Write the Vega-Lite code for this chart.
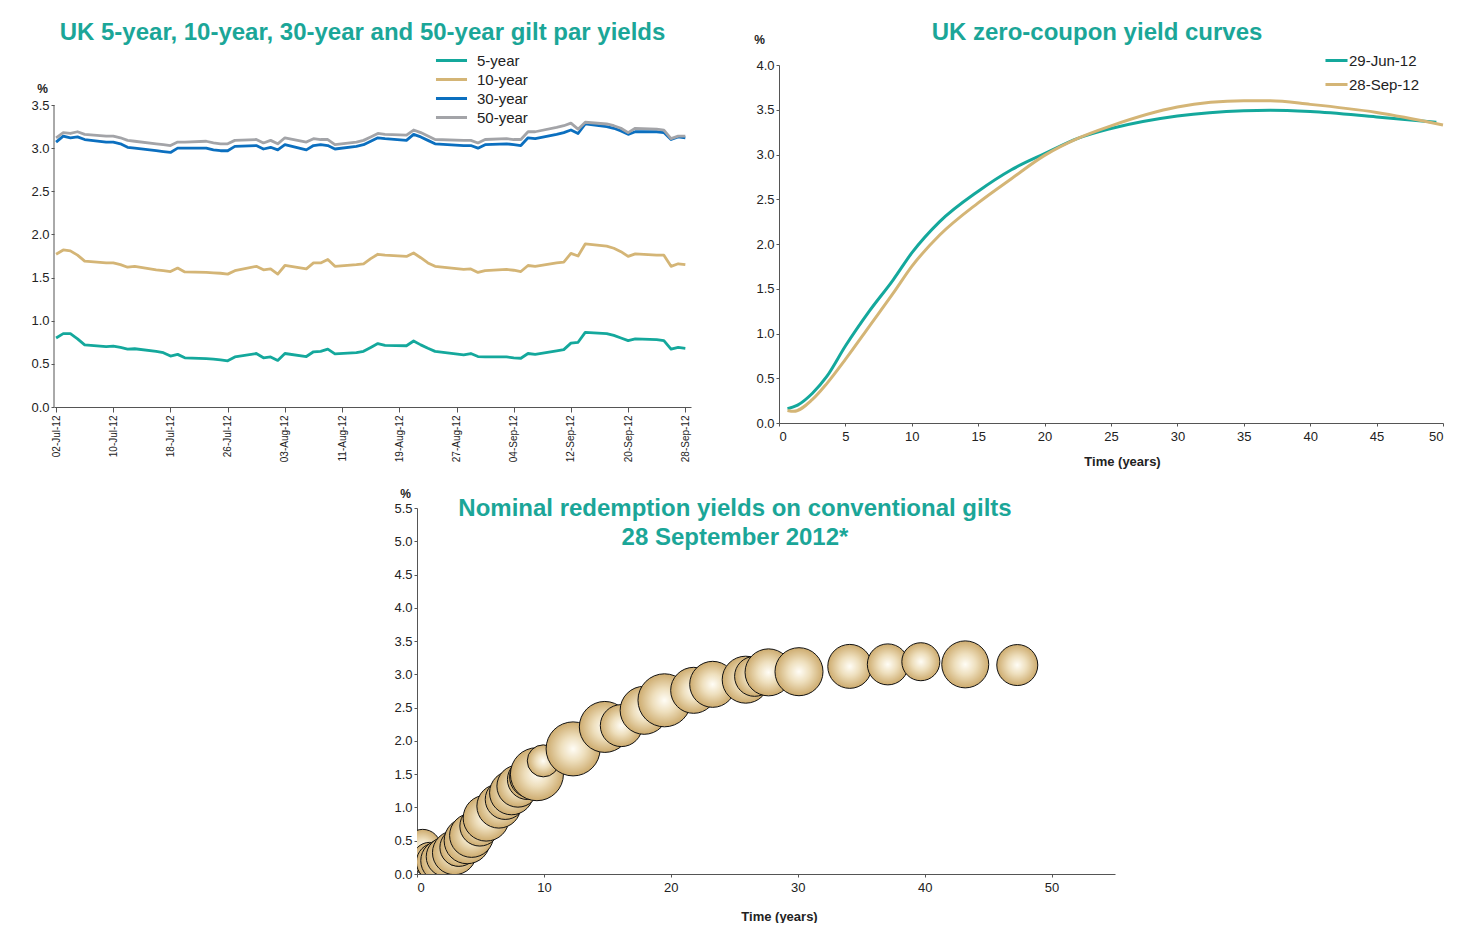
{
  "$schema": "https://vega.github.io/schema/vega-lite/v6.json",
  "background": "white",
  "padding": {"left": 30, "top": 21, "right": 0, "bottom": 0},
  "config": {
    "view": {"stroke": null},
    "font": "Liberation Sans, Arial, sans-serif",
    "title": {"font": "Liberation Sans, Arial, sans-serif", "fontSize": 24, "fontWeight": "bold", "color": "#1ba698", "anchor": "middle", "frame": "group"},
    "axis": {"grid": false, "domainColor": "#555555", "tickColor": "#555555", "tickSize": 3, "labelPadding": 2, "labelColor": "#222222", "labelFontSize": 13, "labelFont": "Liberation Sans, Arial, sans-serif", "titleFont": "Liberation Sans, Arial, sans-serif", "titleColor": "#222222", "titleFontWeight": "bold", "titleFontSize": 13},
    "legend": {"labelFont": "Liberation Sans, Arial, sans-serif", "labelFontSize": 15, "labelColor": "#222222", "symbolType": "M-3,0H3", "symbolStrokeWidth": 3, "title": null}
  },
  "spacing": 19,
  "vconcat": [
    {
      "spacing": 62,
      "resolve": {"scale": {"color": "independent"}, "legend": {"color": "independent"}},
      "hconcat": [
        {
          "width": 637,
          "height": 342,
          "title": {"text": "UK 5-year, 10-year, 30-year and 50-year gilt par yields", "dx": -10, "offset": 8},
          "layer": [
            {
              "data": {"values": [
                {"date": "2012-07-02", "5-year": 0.80, "10-year": 1.77, "30-year": 3.07, "50-year": 3.12},
                {"date": "2012-07-03", "5-year": 0.85, "10-year": 1.82, "30-year": 3.14, "50-year": 3.18},
                {"date": "2012-07-04", "5-year": 0.85, "10-year": 1.81, "30-year": 3.12, "50-year": 3.17},
                {"date": "2012-07-05", "5-year": 0.79, "10-year": 1.76, "30-year": 3.13, "50-year": 3.19},
                {"date": "2012-07-06", "5-year": 0.72, "10-year": 1.69, "30-year": 3.10, "50-year": 3.16},
                {"date": "2012-07-09", "5-year": 0.70, "10-year": 1.67, "30-year": 3.07, "50-year": 3.14},
                {"date": "2012-07-10", "5-year": 0.705, "10-year": 1.67, "30-year": 3.07, "50-year": 3.14},
                {"date": "2012-07-11", "5-year": 0.69, "10-year": 1.65, "30-year": 3.05, "50-year": 3.12},
                {"date": "2012-07-12", "5-year": 0.67, "10-year": 1.62, "30-year": 3.01, "50-year": 3.09},
                {"date": "2012-07-13", "5-year": 0.675, "10-year": 1.63, "30-year": 3.00, "50-year": 3.08},
                {"date": "2012-07-16", "5-year": 0.645, "10-year": 1.59, "30-year": 2.97, "50-year": 3.05},
                {"date": "2012-07-17", "5-year": 0.63, "10-year": 1.58, "30-year": 2.96, "50-year": 3.04},
                {"date": "2012-07-18", "5-year": 0.59, "10-year": 1.57, "30-year": 2.95, "50-year": 3.03},
                {"date": "2012-07-19", "5-year": 0.61, "10-year": 1.61, "30-year": 3.00, "50-year": 3.07},
                {"date": "2012-07-20", "5-year": 0.57, "10-year": 1.565, "30-year": 3.00, "50-year": 3.07},
                {"date": "2012-07-23", "5-year": 0.56, "10-year": 1.56, "30-year": 3.00, "50-year": 3.08},
                {"date": "2012-07-24", "5-year": 0.555, "10-year": 1.555, "30-year": 2.98, "50-year": 3.06},
                {"date": "2012-07-25", "5-year": 0.545, "10-year": 1.55, "30-year": 2.97, "50-year": 3.05},
                {"date": "2012-07-26", "5-year": 0.535, "10-year": 1.54, "30-year": 2.97, "50-year": 3.05},
                {"date": "2012-07-27", "5-year": 0.58, "10-year": 1.58, "30-year": 3.02, "50-year": 3.09},
                {"date": "2012-07-30", "5-year": 0.62, "10-year": 1.63, "30-year": 3.03, "50-year": 3.10},
                {"date": "2012-07-31", "5-year": 0.57, "10-year": 1.59, "30-year": 2.99, "50-year": 3.06},
                {"date": "2012-08-01", "5-year": 0.58, "10-year": 1.60, "30-year": 3.01, "50-year": 3.09},
                {"date": "2012-08-02", "5-year": 0.54, "10-year": 1.54, "30-year": 2.98, "50-year": 3.05},
                {"date": "2012-08-03", "5-year": 0.62, "10-year": 1.64, "30-year": 3.04, "50-year": 3.12},
                {"date": "2012-08-06", "5-year": 0.585, "10-year": 1.60, "30-year": 2.98, "50-year": 3.07},
                {"date": "2012-08-07", "5-year": 0.64, "10-year": 1.67, "30-year": 3.03, "50-year": 3.11},
                {"date": "2012-08-08", "5-year": 0.645, "10-year": 1.67, "30-year": 3.04, "50-year": 3.10},
                {"date": "2012-08-09", "5-year": 0.67, "10-year": 1.71, "30-year": 3.03, "50-year": 3.10},
                {"date": "2012-08-10", "5-year": 0.615, "10-year": 1.63, "30-year": 2.99, "50-year": 3.04},
                {"date": "2012-08-13", "5-year": 0.63, "10-year": 1.65, "30-year": 3.02, "50-year": 3.07},
                {"date": "2012-08-14", "5-year": 0.645, "10-year": 1.66, "30-year": 3.04, "50-year": 3.09},
                {"date": "2012-08-15", "5-year": 0.69, "10-year": 1.72, "30-year": 3.08, "50-year": 3.13},
                {"date": "2012-08-16", "5-year": 0.735, "10-year": 1.77, "30-year": 3.12, "50-year": 3.17},
                {"date": "2012-08-17", "5-year": 0.715, "10-year": 1.76, "30-year": 3.11, "50-year": 3.16},
                {"date": "2012-08-20", "5-year": 0.71, "10-year": 1.745, "30-year": 3.09, "50-year": 3.15},
                {"date": "2012-08-21", "5-year": 0.765, "10-year": 1.785, "30-year": 3.16, "50-year": 3.21},
                {"date": "2012-08-22", "5-year": 0.72, "10-year": 1.73, "30-year": 3.13, "50-year": 3.18},
                {"date": "2012-08-23", "5-year": 0.68, "10-year": 1.67, "30-year": 3.09, "50-year": 3.14},
                {"date": "2012-08-24", "5-year": 0.645, "10-year": 1.63, "30-year": 3.05, "50-year": 3.10},
                {"date": "2012-08-28", "5-year": 0.605, "10-year": 1.595, "30-year": 3.03, "50-year": 3.09},
                {"date": "2012-08-29", "5-year": 0.62, "10-year": 1.60, "30-year": 3.03, "50-year": 3.09},
                {"date": "2012-08-30", "5-year": 0.585, "10-year": 1.56, "30-year": 3.00, "50-year": 3.06},
                {"date": "2012-08-31", "5-year": 0.58, "10-year": 1.58, "30-year": 3.04, "50-year": 3.10},
                {"date": "2012-09-03", "5-year": 0.58, "10-year": 1.595, "30-year": 3.05, "50-year": 3.11},
                {"date": "2012-09-04", "5-year": 0.57, "10-year": 1.585, "30-year": 3.04, "50-year": 3.10},
                {"date": "2012-09-05", "5-year": 0.565, "10-year": 1.57, "30-year": 3.03, "50-year": 3.10},
                {"date": "2012-09-06", "5-year": 0.62, "10-year": 1.64, "30-year": 3.12, "50-year": 3.19},
                {"date": "2012-09-07", "5-year": 0.61, "10-year": 1.63, "30-year": 3.11, "50-year": 3.19},
                {"date": "2012-09-10", "5-year": 0.65, "10-year": 1.67, "30-year": 3.16, "50-year": 3.24},
                {"date": "2012-09-11", "5-year": 0.665, "10-year": 1.68, "30-year": 3.18, "50-year": 3.26},
                {"date": "2012-09-12", "5-year": 0.74, "10-year": 1.78, "30-year": 3.21, "50-year": 3.29},
                {"date": "2012-09-13", "5-year": 0.75, "10-year": 1.75, "30-year": 3.17, "50-year": 3.22},
                {"date": "2012-09-14", "5-year": 0.865, "10-year": 1.89, "30-year": 3.28, "50-year": 3.30},
                {"date": "2012-09-17", "5-year": 0.85, "10-year": 1.865, "30-year": 3.25, "50-year": 3.28},
                {"date": "2012-09-18", "5-year": 0.83, "10-year": 1.84, "30-year": 3.23, "50-year": 3.26},
                {"date": "2012-09-19", "5-year": 0.80, "10-year": 1.80, "30-year": 3.20, "50-year": 3.23},
                {"date": "2012-09-20", "5-year": 0.77, "10-year": 1.745, "30-year": 3.16, "50-year": 3.18},
                {"date": "2012-09-21", "5-year": 0.79, "10-year": 1.775, "30-year": 3.19, "50-year": 3.23},
                {"date": "2012-09-24", "5-year": 0.78, "10-year": 1.76, "30-year": 3.19, "50-year": 3.22},
                {"date": "2012-09-25", "5-year": 0.77, "10-year": 1.76, "30-year": 3.18, "50-year": 3.21},
                {"date": "2012-09-26", "5-year": 0.67, "10-year": 1.63, "30-year": 3.10, "50-year": 3.11},
                {"date": "2012-09-27", "5-year": 0.69, "10-year": 1.66, "30-year": 3.13, "50-year": 3.14},
                {"date": "2012-09-28", "5-year": 0.68, "10-year": 1.65, "30-year": 3.12, "50-year": 3.14}
              ]},
              "transform": [{"fold": ["5-year", "10-year", "30-year", "50-year"], "as": ["series", "yield"]}],
              "mark": {"type": "line", "strokeWidth": 2.8, "strokeJoin": "round"},
              "encoding": {
                "x": {
                  "field": "date", "type": "temporal",
                  "scale": {"type": "utc", "domain": [{"year": 2012, "month": 7, "date": 1, "hours": 17, "utc": true}, {"year": 2012, "month": 9, "date": 28, "hours": 19, "utc": true}]},
                  "axis": {
                    "title": null, "format": "%d-%b-%y", "labelAngle": -90, "labelFontSize": 10, "tickSize": 5, "labelPadding": 3,
                    "values": [
                      {"year": 2012, "month": 7, "date": 2, "utc": true},
                      {"year": 2012, "month": 7, "date": 10, "utc": true},
                      {"year": 2012, "month": 7, "date": 18, "utc": true},
                      {"year": 2012, "month": 7, "date": 26, "utc": true},
                      {"year": 2012, "month": 8, "date": 3, "utc": true},
                      {"year": 2012, "month": 8, "date": 11, "utc": true},
                      {"year": 2012, "month": 8, "date": 19, "utc": true},
                      {"year": 2012, "month": 8, "date": 27, "utc": true},
                      {"year": 2012, "month": 9, "date": 4, "utc": true},
                      {"year": 2012, "month": 9, "date": 12, "utc": true},
                      {"year": 2012, "month": 9, "date": 20, "utc": true},
                      {"year": 2012, "month": 9, "date": 28, "utc": true}
                    ]
                  }
                },
                "y": {
                  "field": "yield", "type": "quantitative",
                  "scale": {"domain": [0, 3.9636], "nice": false},
                  "axis": {"domain": false, "values": [0, 0.5, 1, 1.5, 2, 2.5, 3, 3.5], "format": ".1f", "title": "%", "titleAngle": 0, "titleAlign": "center", "titleBaseline": "alphabetic", "titleX": -12, "titleY": 27, "titleFontSize": 12}
                },
                "color": {
                  "field": "series", "type": "nominal",
                  "scale": {"domain": ["5-year", "10-year", "30-year", "50-year"], "range": ["#14a89c", "#d4b576", "#0b6fbf", "#a3a4a8"]},
                  "legend": {"orient": "none", "legendX": 390, "legendY": -12, "symbolSize": 107, "rowPadding": 3, "labelOffset": 18}
                }
              }
            },
            {
              "data": {"values": [{"axisStart": 0, "axisEnd": 3.5}]},
              "mark": {"type": "rule", "color": "#555555", "strokeWidth": 1},
              "encoding": {
                "x": {"datum": {"year": 2012, "month": 7, "date": 1, "hours": 17, "utc": true}, "type": "temporal"},
                "y": {"field": "axisStart", "type": "quantitative"},
                "y2": {"field": "axisEnd"}
              }
            }
          ]
        },
        {
          "width": 664,
          "height": 358,
          "title": {"text": "UK zero-coupon yield curves", "dx": -14, "offset": -12},
          "data": {"values": [
            {"curve": "29-Jun-12", "t": 0.64, "y": 0.16},
            {"curve": "29-Jun-12", "t": 1.4, "y": 0.2},
            {"curve": "29-Jun-12", "t": 2.5, "y": 0.33},
            {"curve": "29-Jun-12", "t": 3.6, "y": 0.52},
            {"curve": "29-Jun-12", "t": 5, "y": 0.86},
            {"curve": "29-Jun-12", "t": 6.8, "y": 1.25},
            {"curve": "29-Jun-12", "t": 8.6, "y": 1.6},
            {"curve": "29-Jun-12", "t": 10, "y": 1.9},
            {"curve": "29-Jun-12", "t": 12.1, "y": 2.25},
            {"curve": "29-Jun-12", "t": 15, "y": 2.59},
            {"curve": "29-Jun-12", "t": 17.5, "y": 2.83},
            {"curve": "29-Jun-12", "t": 20, "y": 3.01},
            {"curve": "29-Jun-12", "t": 22.5, "y": 3.18},
            {"curve": "29-Jun-12", "t": 25, "y": 3.29},
            {"curve": "29-Jun-12", "t": 30, "y": 3.43},
            {"curve": "29-Jun-12", "t": 35, "y": 3.49},
            {"curve": "29-Jun-12", "t": 37, "y": 3.495},
            {"curve": "29-Jun-12", "t": 40, "y": 3.48},
            {"curve": "29-Jun-12", "t": 45, "y": 3.42},
            {"curve": "29-Jun-12", "t": 49.5, "y": 3.36},
            {"curve": "28-Sep-12", "t": 0.64, "y": 0.14},
            {"curve": "28-Sep-12", "t": 1.1, "y": 0.13},
            {"curve": "28-Sep-12", "t": 2.5, "y": 0.26},
            {"curve": "28-Sep-12", "t": 3.6, "y": 0.44},
            {"curve": "28-Sep-12", "t": 5, "y": 0.71},
            {"curve": "28-Sep-12", "t": 6.8, "y": 1.08},
            {"curve": "28-Sep-12", "t": 8.6, "y": 1.45},
            {"curve": "28-Sep-12", "t": 10, "y": 1.75},
            {"curve": "28-Sep-12", "t": 12.1, "y": 2.1},
            {"curve": "28-Sep-12", "t": 15, "y": 2.46},
            {"curve": "28-Sep-12", "t": 17.5, "y": 2.73},
            {"curve": "28-Sep-12", "t": 20, "y": 2.99},
            {"curve": "28-Sep-12", "t": 22.5, "y": 3.18},
            {"curve": "28-Sep-12", "t": 25, "y": 3.32},
            {"curve": "28-Sep-12", "t": 30, "y": 3.53},
            {"curve": "28-Sep-12", "t": 35, "y": 3.6},
            {"curve": "28-Sep-12", "t": 37, "y": 3.6},
            {"curve": "28-Sep-12", "t": 40, "y": 3.56},
            {"curve": "28-Sep-12", "t": 45, "y": 3.47},
            {"curve": "28-Sep-12", "t": 50, "y": 3.33}
          ]},
          "mark": {"type": "line", "strokeWidth": 3, "interpolate": "monotone"},
          "encoding": {
            "x": {"field": "t", "type": "quantitative", "scale": {"domain": [0, 50], "nice": false},
                  "axis": {"values": [0, 5, 10, 15, 20, 25, 30, 35, 40, 45, 50], "title": "Time (years)", "titleX": 343, "titleY": 42, "titleBaseline": "alphabetic", "titleAlign": "center", "tickSize": 3, "labelPadding": 4}},
            "y": {"field": "y", "type": "quantitative", "scale": {"domain": [0, 4], "nice": false},
                  "axis": {"values": [0, 0.5, 1, 1.5, 2, 2.5, 3, 3.5, 4], "format": ".1f", "title": "%", "titleAngle": 0, "titleAlign": "center", "titleBaseline": "alphabetic", "titleX": -20, "titleY": -22, "titleFontSize": 12}},
            "color": {"field": "curve", "type": "nominal",
                      "scale": {"domain": ["29-Jun-12", "28-Sep-12"], "range": ["#14a89c", "#d4b576"]},
                      "legend": {"orient": "none", "legendX": 550, "legendY": -12, "symbolSize": 54, "rowPadding": 8, "labelOffset": 5}}
          }
        }
      ]
    },
    {
      "spacing": 0,
      "hconcat": [
        {"width": 339, "height": 1, "data": {"values": []}, "mark": "point"},
        {
          "width": 698,
          "height": 366,
          "title": {"text": ["Nominal redemption yields on conventional gilts", "28 September 2012*"], "dx": -31, "offset": -63, "lineHeight": 29},
          "data": {"values": [
            {"maturity": 0.45, "yield": 0.40, "amount": 17.0},
            {"maturity": 0.99, "yield": 0.22, "amount": 15.1},
            {"maturity": 1.45, "yield": 0.18, "amount": 18.9},
            {"maturity": 1.95, "yield": 0.20, "amount": 23.1},
            {"maturity": 2.3, "yield": 0.26, "amount": 20.9},
            {"maturity": 2.95, "yield": 0.32, "amount": 25.3},
            {"maturity": 3.2, "yield": 0.36, "amount": 13.4},
            {"maturity": 3.3, "yield": 0.40, "amount": 18.9},
            {"maturity": 3.95, "yield": 0.50, "amount": 27.7},
            {"maturity": 4.3, "yield": 0.58, "amount": 25.3},
            {"maturity": 4.9, "yield": 0.70, "amount": 11.8},
            {"maturity": 4.95, "yield": 0.72, "amount": 20.9},
            {"maturity": 5.45, "yield": 0.84, "amount": 27.7},
            {"maturity": 6.45, "yield": 1.02, "amount": 25.3},
            {"maturity": 6.95, "yield": 1.12, "amount": 20.9},
            {"maturity": 7.45, "yield": 1.22, "amount": 25.3},
            {"maturity": 7.95, "yield": 1.32, "amount": 23.1},
            {"maturity": 8.7, "yield": 1.42, "amount": 20.9},
            {"maturity": 8.95, "yield": 1.46, "amount": 23.1},
            {"maturity": 9.45, "yield": 1.50, "amount": 36.8},
            {"maturity": 9.95, "yield": 1.70, "amount": 13.4},
            {"maturity": 12.3, "yield": 1.88, "amount": 38.2},
            {"maturity": 14.8, "yield": 2.21, "amount": 34.0},
            {"maturity": 16.1, "yield": 2.23, "amount": 23.1},
            {"maturity": 17.9, "yield": 2.46, "amount": 30.2},
            {"maturity": 19.5, "yield": 2.61, "amount": 36.8},
            {"maturity": 21.8, "yield": 2.76, "amount": 27.7},
            {"maturity": 23.3, "yield": 2.85, "amount": 27.7},
            {"maturity": 25.9, "yield": 2.92, "amount": 28.9},
            {"maturity": 26.6, "yield": 2.97, "amount": 20.9},
            {"maturity": 27.7, "yield": 3.03, "amount": 28.9},
            {"maturity": 30.1, "yield": 3.04, "amount": 30.2},
            {"maturity": 34.1, "yield": 3.12, "amount": 25.3},
            {"maturity": 37.1, "yield": 3.15, "amount": 22.0},
            {"maturity": 39.7, "yield": 3.19, "amount": 18.9},
            {"maturity": 43.2, "yield": 3.15, "amount": 28.9},
            {"maturity": 47.3, "yield": 3.14, "amount": 22.0}
          ]},
          "mark": {"type": "point", "shape": "circle", "filled": true, "opacity": 1, "clip": true, "stroke": "#111111", "strokeWidth": 1,
                   "fill": {"gradient": "radial", "stops": [{"offset": 0, "color": "#fffdf6"}, {"offset": 0.45, "color": "#eedfbd"}, {"offset": 1, "color": "#cdab6e"}]}},
          "encoding": {
            "x": {"field": "maturity", "type": "quantitative", "scale": {"domain": [0, 55], "nice": false},
                  "axis": {"values": [0, 10, 20, 30, 40, 50], "title": "Time (years)", "titleX": 362, "titleY": 46, "titleBaseline": "alphabetic", "titleAlign": "center", "tickSize": 3, "labelPadding": 4}},
            "y": {"field": "yield", "type": "quantitative", "scale": {"domain": [0, 5.5], "nice": false},
                  "axis": {"values": [0, 0.5, 1, 1.5, 2, 2.5, 3, 3.5, 4, 4.5, 5, 5.5], "format": ".1f", "title": "%", "titleAngle": 0, "titleAlign": "center", "titleBaseline": "alphabetic", "titleX": -12, "titleY": -11, "titleFontSize": 12}},
            "size": {"field": "amount", "type": "quantitative", "scale": {"domain": [0, 40], "range": [0, 3056]}, "legend": null}
          }
        }
      ]
    }
  ]
}
